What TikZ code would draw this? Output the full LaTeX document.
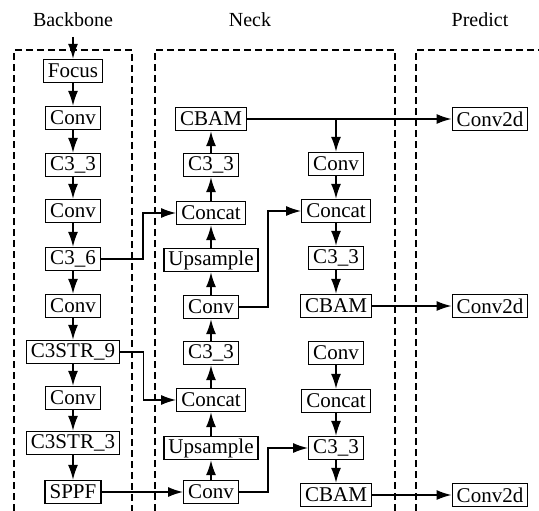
\documentclass[tikz,border=0pt]{standalone}
\usepackage{fontspec}
\setmainfont{Liberation Serif}
\usetikzlibrary{arrows.meta}

\begin{document}
\begin{tikzpicture}[x=1pt,y=-1pt,
        layer/.style={draw, line width=1.4pt, inner xsep=4.5pt, inner ysep=1pt, minimum height=23pt,
          font=\fontsize{21}{22}\selectfont},
        title/.style={font=\fontsize{20}{22}\selectfont},
        part/.style={line width=1.3pt, dash pattern=on 7pt off 4pt},
        flow/.style={line width=1.4pt, -{Latex[length=15pt,width=10pt]}}]
        \useasboundingbox (0,0) rectangle (539,511);

        % titles and dashed parts
        \node[title] (tback) at (73,20) {Backbone};
        \node[title] (tneck) at (250,20) {Neck};
        \node[title] (tpred) at (480,20) {Predict};
        \draw[part] (14,511) -- (14,50) -- (132,50) -- (132,511);
        \draw[part] (155,511) -- (155,50) -- (395,50) -- (395,511);
        \draw[part] (416,511) -- (416,50) -- (539,50);

        \begin{scope}[shift={(73,0)}]
          \node[layer] (focus) at (0,71)  {Focus};
          \node[layer] (bconv1) at (0,118) {Conv};
          \node[layer] (bc33)   at (0,165) {C3\_3};
          \node[layer] (bconv2) at (0,211) {Conv};
          \node[layer] (bc36)   at (0,259) {C3\_6};
          \node[layer] (bconv3) at (0,306) {Conv};
          \node[layer] (bstr9)  at (0,352) {C3STR\_9};
          \node[layer] (bconv4) at (0,398) {Conv};
          \node[layer] (bstr3)  at (0,443) {C3STR\_3};
          \node[layer] (sppf)   at (0,492) {SPPF};
          \coordinate (input) at (0,37);
        \end{scope}

        \begin{scope}[shift={(211,0)}]
          \node[layer] (ncbam1) at (0,119) {CBAM};
          \node[layer] (nc331)  at (0,165) {C3\_3};
          \node[layer] (ncat1)  at (0,213) {Concat};
          \node[layer] (nup1)   at (0,260) {Upsample};
          \node[layer] (nconv1) at (0,307) {Conv};
          \node[layer] (nc332)  at (0,353) {C3\_3};
          \node[layer] (ncat2)  at (0,400) {Concat};
          \node[layer] (nup2)   at (0,448) {Upsample};
          \node[layer] (nconv2) at (0,492) {Conv};
        \end{scope}

        \begin{scope}[shift={(336,0)}]
          \node[layer] (rconv1) at (0,164) {Conv};
          \node[layer] (rcat1)  at (0,211) {Concat};
          \node[layer] (rc331)  at (0,258) {C3\_3};
          \node[layer] (rcbam1) at (0,306) {CBAM};
          \node[layer] (rconv2) at (0,353) {Conv};
          \node[layer] (rcat2)  at (0,401) {Concat};
          \node[layer] (rc332)  at (0,448) {C3\_3};
          \node[layer] (rcbam2) at (0,495) {CBAM};
        \end{scope}

        \begin{scope}[shift={(490,0)}]
          \node[layer] (pred1) at (0,119) {Conv2d};
          \node[layer] (pred2) at (0,306) {Conv2d};
          \node[layer] (pred3) at (0,495) {Conv2d};
        \end{scope}

        % backbone
        \draw[flow] (input) -- (focus);
        \draw[flow] (focus) -- (bconv1);
        \draw[flow] (bconv1) -- (bc33);
        \draw[flow] (bc33) -- (bconv2);
        \draw[flow] (bconv2) -- (bc36);
        \draw[flow] (bc36) -- (bconv3);
        \draw[flow] (bconv3) -- (bstr9);
        \draw[flow] (bstr9) -- (bconv4);
        \draw[flow] (bconv4) -- (bstr3);
        \draw[flow] (bstr3) -- (sppf);

        % neck, upward
        \draw[flow] (nconv2) -- (nup2);
        \draw[flow] (nup2) -- (ncat2);
        \draw[flow] (ncat2) -- (nc332);
        \draw[flow] (nc332) -- (nconv1);
        \draw[flow] (nconv1) -- (nup1);
        \draw[flow] (nup1) -- (ncat1);
        \draw[flow] (ncat1) -- (nc331);
        \draw[flow] (nc331) -- (ncbam1);

        % neck, downward
        \draw[flow] (rconv1) -- (rcat1);
        \draw[flow] (rcat1) -- (rc331);
        \draw[flow] (rc331) -- (rcbam1);
        \draw[flow] (rconv2) -- (rcat2);
        \draw[flow] (rcat2) -- (rc332);
        \draw[flow] (rc332) -- (rcbam2);

        % skips
        \draw[flow] (bc36.east) -- ++(42,0) |- (ncat1.west);
        \draw[flow] (bstr9.east) -- ++(23,0) |- (ncat2.west);
        \draw[flow] (sppf) -- (nconv2);
        \draw[flow] (nconv1.east) -- ++(29,0) |- (rcat1.west);
        \draw[flow] (nconv2.east) -- ++(29,0) |- (rc332.west);
        \draw[flow] (ncbam1.east -| rconv1.north) -- (rconv1);

        % heads
        \draw[flow] (ncbam1) -- (pred1);
        \draw[flow] (rcbam1) -- (pred2);
        \draw[flow] (rcbam2) -- (pred3);
      \end{tikzpicture}
\end{document}
